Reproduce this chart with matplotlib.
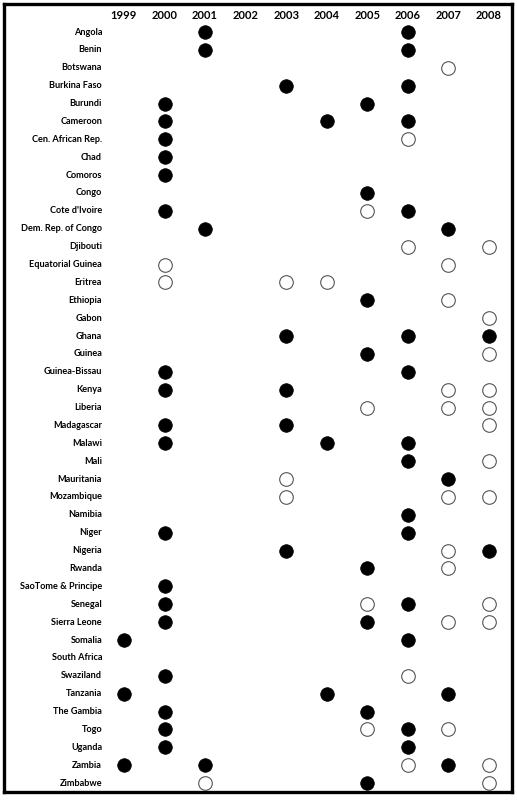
import matplotlib
matplotlib.use("Agg")
import matplotlib.pyplot as plt

years = [1999, 2000, 2001, 2002, 2003, 2004, 2005, 2006, 2007, 2008]

countries = [
    "Angola", "Benin", "Botswana", "Burkina Faso", "Burundi", "Cameroon",
    "Cen. African Rep.", "Chad", "Comoros", "Congo", "Cote d'Ivoire",
    "Dem. Rep. of Congo", "Djibouti", "Equatorial Guinea", "Eritrea", "Ethiopia",
    "Gabon", "Ghana", "Guinea", "Guinea-Bissau", "Kenya", "Liberia", "Madagascar",
    "Malawi", "Mali", "Mauritania", "Mozambique", "Namibia", "Niger", "Nigeria",
    "Rwanda", "SaoTome & Principe", "Senegal", "Sierra Leone", "Somalia",
    "South Africa", "Swaziland", "Tanzania", "The Gambia", "Togo", "Uganda",
    "Zambia", "Zimbabwe",
]

# years with a filled circle, per country (same order as countries)
filled = [
    [2001, 2006], [2001, 2006], [], [2003, 2006], [2000, 2005], [2000, 2004, 2006],
    [2000], [2000], [2000], [2005], [2000, 2006],
    [2001, 2007], [], [], [], [2005],
    [], [2003, 2006, 2008], [2005], [2000, 2006], [2000, 2003], [], [2000, 2003],
    [2000, 2004, 2006], [2006], [2007], [], [2006], [2000, 2006], [2003, 2008],
    [2005], [2000], [2000, 2006], [2000, 2005], [1999, 2006],
    [], [2000], [1999, 2004, 2007], [2000, 2005], [2000, 2006], [2000, 2006],
    [1999, 2001, 2007], [2005],
]

# years with an open circle, per country
hollow = [
    [], [], [2007], [], [], [],
    [2006], [], [], [], [2005],
    [], [2006, 2008], [2000, 2007], [2000, 2003, 2004], [2007],
    [2008], [], [2008], [], [2007, 2008], [2005, 2007, 2008], [2008],
    [], [2008], [2003], [2003, 2007, 2008], [], [], [2007],
    [2007], [], [2005, 2008], [2007, 2008], [],
    [], [2006], [], [], [2005, 2007], [],
    [2006, 2008], [2001, 2008],
]

W, H = 517, 800
fig = plt.figure(figsize=(W / 100, H / 100), dpi=100)
# axes spans the frame; data coords chosen so columns/rows land where the original has them
ax = fig.add_axes([4 / W, 1 - 792 / H, 508 / W, 788 / H])
ax.set_xlim(1996.04, 2008.57)
ax.set_ylim(42.5, -1.57)
ax.set_xticks([]); ax.set_yticks([])
for s in ax.spines.values():
    s.set_linewidth(2.4)
    s.set_color("black")

fx, fy, hx, hy = [], [], [], []
for i, (f, h) in enumerate(zip(filled, hollow)):
    fx += f; fy += [i] * len(f)
    hx += h; hy += [i] * len(h)

ax.scatter(fx, fy, s=96, c="black", edgecolors="black", linewidths=0.5, zorder=3)
ax.scatter(hx, hy, s=96, facecolors="white", edgecolors="#555555", linewidths=0.8, zorder=3)

fam = ["Lato", "DejaVu Sans"]
for yr in years:
    ax.text(yr, -0.95, str(yr), ha="center", va="center",
            family=fam, fontweight="bold", fontsize=8)
for i, c in enumerate(countries):
    ax.text(1998.46, i, c, ha="right", va="center",
            family=fam, fontweight="bold", fontsize=6.6)

fig.savefig("out.png", dpi=100)
